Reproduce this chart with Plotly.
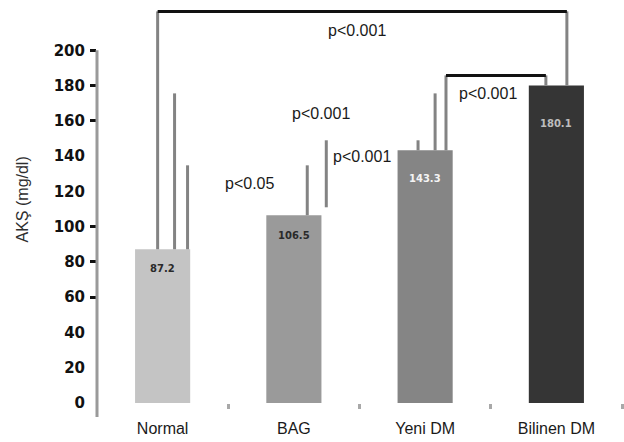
import plotly.graph_objects as go

# ---- data ----
categories = ["Normal", "BAG", "Yeni DM", "Bilinen DM"]
values = [87.2, 106.5, 143.3, 180.1]
value_labels = ["87.2", "106.5", "143.3", "180.1"]
bar_colors = ["#c4c4c4", "#9a9a9a", "#858585", "#353535"]
label_colors = ["#2a2a2a", "#2a2a2a", "#f4f4f4", "#bdbdbd"]

y_tickvals = [0, 20, 40, 60, 80, 100, 120, 140, 160, 180, 200]
y_marked_ticks = [60, 80, 100, 160, 180, 200]

# significance bracket legs: (x position in category units, bottom value, top value)
leg_x = [-0.038, 0.091, 0.190, 1.102, 1.247, 1.946, 2.076, 2.159, 2.920, 3.080]
leg_y0 = [87.2, 87.2, 87.2, 106.5, 111.0, 143.3, 143.3, 143.3, 180.1, 180.1]
leg_y1 = [222.1, 175.6, 134.8, 134.8, 149.0, 149.0, 175.6, 185.8, 185.8, 222.1]
# bracket tops: (x start, x end, value)
top_x0 = [-0.038, 2.159]
top_x1 = [3.080, 2.920]
top_y = [222.1, 185.8]

p_texts = ["p<0.001", "p<0.05", "p<0.001", "p<0.001", "p<0.001"]
p_x = [1.483, 0.661, 1.209, 1.521, 2.479]
p_y = [211.3, 124.6, 164.3, 140.0, 175.6]

# style: pixel offsets of value labels below bar tops
label_yshift = [-19, -20, -28, -38]

Y_RANGE = [0, 228]
X_RANGE = [-0.5, 3.5]

fig = go.Figure()

fig.add_trace(go.Bar(
    x=list(range(len(categories))), y=values,
    width=0.42,
    marker=dict(color=bar_colors, line=dict(width=0)),
    hoverinfo="skip",
))

# gray vertical legs
lx, ly = [], []
for x, a, b in zip(leg_x, leg_y0, leg_y1):
    lx += [x, x, None]
    ly += [a, b, None]
fig.add_trace(go.Scatter(x=lx, y=ly, mode="lines",
                         line=dict(color="#838383", width=3),
                         hoverinfo="skip", showlegend=False))

# black horizontal tops
hx, hy = [], []
for a, b, y in zip(top_x0, top_x1, top_y):
    hx += [a, b, None]
    hy += [y, y, None]
fig.add_trace(go.Scatter(x=hx, y=hy, mode="lines",
                         line=dict(color="#111111", width=3),
                         hoverinfo="skip", showlegend=False))

# invisible trace for overlay axes (tick marks)
fig.add_trace(go.Scatter(x=list(range(len(categories))), y=values, mode="markers",
                         marker=dict(opacity=0), xaxis="x2", yaxis="y2",
                         hoverinfo="skip", showlegend=False))

# bar value labels
for i, (v, t, c, s) in enumerate(zip(values, value_labels, label_colors, label_yshift)):
    fig.add_annotation(x=i, y=v, text=t, showarrow=False, yshift=s,
                       font=dict(family="DejaVu Sans", size=10, color=c, weight="bold"))

# p-value texts
for t, x, y in zip(p_texts, p_x, p_y):
    fig.add_annotation(x=x, y=y, text=t, showarrow=False,
                       font=dict(family="Liberation Sans", size=16, color="#1a1a1a"))

# y axis title
fig.add_annotation(xref="paper", yref="paper", x=0, y=0.505, xshift=-85,
                   text="AKŞ (mg/dl)", textangle=-90, showarrow=False,
                   font=dict(family="Liberation Sans", size=16, color="#2e2e2e"))

# y axis line (extends slightly below zero)
fig.add_shape(type="line", xref="paper", yref="paper",
              x0=0, x1=0, y0=-0.035, y1=200 / Y_RANGE[1],
              line=dict(color="#9a9a9a", width=3))

fig.update_layout(
    width=624, height=442,
    margin=dict(l=97, r=2, t=1, b=39, autoexpand=False),
    plot_bgcolor="white", paper_bgcolor="white",
    showlegend=False,
    xaxis=dict(range=X_RANGE, tickvals=list(range(len(categories))), ticktext=categories,
               showgrid=False, zeroline=False, showline=False, ticks="",
               ticklabelstandoff=14, automargin=False,
               tickfont=dict(family="Liberation Sans", size=16, color="#1a1a1a")),
    yaxis=dict(range=Y_RANGE, tickvals=y_tickvals, showgrid=False, zeroline=False,
               showline=False, ticks="", ticklabelstandoff=11, automargin=False,
               tickfont=dict(family="DejaVu Sans", size=15, color="#111111", weight="bold")),
    xaxis2=dict(range=X_RANGE, overlaying="x", side="bottom",
                tickvals=[0.5, 1.5, 2.5, 3.5], showticklabels=False,
                ticks="outside", ticklen=5, tickwidth=3, tickcolor="#a8a8a8",
                showgrid=False, zeroline=False, showline=False, automargin=False),
    yaxis2=dict(range=Y_RANGE, overlaying="y", side="left",
                tickvals=y_marked_ticks, showticklabels=False,
                ticks="outside", ticklen=6, tickwidth=3, tickcolor="#111111",
                showgrid=False, zeroline=False, showline=False, automargin=False),
)

fig.write_html("out.html", config={"displayModeBar": False},
               post_script="document.body.style.margin='0';")
